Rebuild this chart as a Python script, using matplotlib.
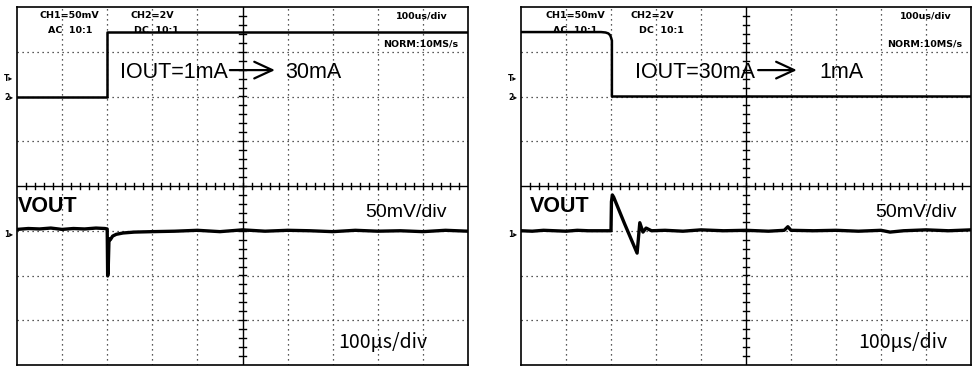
import matplotlib
matplotlib.use('Agg')
import matplotlib.pyplot as plt
import numpy as np

# x: time in microseconds (100 us/div), y: level in screen divisions (-4..4)

# CH2 (load current step) traces
ch2_rise_t = [0, 200, 200, 1000]
ch2_rise_v = [2.0, 2.0, 3.44, 3.44]
ch2_fall_t = [0, 178, 188, 194, 198, 200, 202, 202, 1000]
ch2_fall_v = [3.44, 3.44, 3.43, 3.41, 3.37, 3.32, 3.25, 2.0, 2.0]

# CH1 (VOUT) traces
vout_rise_t = [0, 25, 50, 75, 100, 125, 150, 175, 195, 200, 201, 202, 204, 207,
               212, 220, 235, 260, 300, 350, 400, 450, 500, 550, 600, 650, 700,
               750, 800, 850, 900, 950, 1000]
vout_rise_v = [-0.97, -0.95, -0.96, -0.94, -0.97, -0.95, -0.96, -0.94, -0.95,
               -0.96, -2.01, -1.95, -1.18, -1.20, -1.12, -1.08, -1.05, -1.03,
               -1.02, -1.01, -0.99, -1.02, -0.98, -1.01, -0.99, -1.00, -1.02,
               -0.99, -1.01, -1.00, -1.02, -0.99, -1.01]
vout_fall_t = [0, 25, 50, 75, 100, 125, 150, 175, 200, 201, 203, 206, 230, 258,
               264, 271, 278, 290, 320, 360, 400, 450, 500, 550, 585, 593, 600,
               650, 700, 750, 800, 820, 850, 900, 950, 1000]
vout_fall_v = [-1.00, -1.01, -0.99, -1.00, -1.01, -0.99, -1.00, -1.00, -1.00,
               -0.35, -0.20, -0.25, -0.84, -1.50, -0.82, -1.03, -0.94, -1.00,
               -0.99, -1.01, -0.98, -1.00, -0.99, -1.01, -0.99, -0.91, -0.99,
               -1.00, -0.99, -1.01, -0.99, -1.03, -1.00, -0.98, -1.00, -0.98]

# text labels
header_labels = ['CH1=50mV', 'AC  10:1', 'CH2=2V', 'DC  10:1', '100us/div', 'NORM:10MS/s']
title_from = ['IOUT=1mA', 'IOUT=30mA']
title_to = ['30mA', '1mA']

BIG_FONT = ['Liberation Sans', 'DejaVu Sans']


def draw_panel(ax, ch2_t, ch2_v, vout_t, vout_v, pos):
    ax.set_xlim(0, 1000)
    ax.set_ylim(-4, 4)
    ax.set_xticks([])
    ax.set_yticks([])
    for s in ax.spines.values():
        s.set_linewidth(1.2)
        s.set_color('black')

    # graticule
    for i in range(1, 10):
        if i != 5:
            ax.axvline(i * 100, ls=(0, (1, 3)), lw=0.9, color='#222222')
    for j in range(-3, 4):
        if j != 0:
            ax.axhline(j, ls=(0, (1, 3)), lw=0.9, color='#222222')
    ax.axvline(500, lw=1.0, color='black')
    ax.axhline(0, lw=1.0, color='black')
    for t in range(20, 1000, 20):
        ax.plot([t, t], [-0.07, 0.07], lw=1.0, color='black')
    for y in np.arange(-3.8, 4.0, 0.2):
        ax.plot([493, 507], [y, y], lw=1.0, color='black')

    # traces
    ax.plot(ch2_t, ch2_v, color='black', lw=1.8)
    ax.plot(vout_t, vout_v, color='black', lw=2.4)

    # header text
    hx = pos['header_x']
    hy = [3.75, 3.42, 3.75, 3.42, 3.75, 3.11]
    for lab, x, y in zip(header_labels, hx, hy):
        ax.text(x, y, lab, ha='center', va='baseline', fontsize=6.8,
                fontweight='bold', family='DejaVu Sans')

    # current step annotation
    ax.text(pos['from_x'], 2.41, pos['from'], ha='left', va='baseline',
            fontsize=15.5, family=BIG_FONT)
    ax.annotate('', xy=(pos['arrow'][1], 2.59), xytext=(pos['arrow'][0], 2.59),
                arrowprops=dict(arrowstyle='->,head_length=0.65,head_width=0.3',
                                lw=1.6, color='black', shrinkA=0, shrinkB=0,
                                mutation_scale=20))
    ax.text(pos['to_x'], 2.41, pos['to'], ha='left', va='baseline',
            fontsize=15.5, family=BIG_FONT)

    ax.text(pos['vout_x'], -0.58, 'VOUT', ha='left', va='baseline',
            fontsize=15.5, fontweight='bold', family=BIG_FONT)
    ax.text(pos['mv_x'], -0.69, '50mV/div', ha='left', va='baseline',
            fontsize=14, family=BIG_FONT)
    ax.text(pos['us_x'], -3.61, '100μs/div', ha='left', va='baseline',
            fontsize=14, family=['Noto Sans CJK JP', 'DejaVu Sans'])

    # channel markers at the left edge
    for y, m in [(2.41, 'T▸'), (1.97, '2▸'), (-1.08, '1▸')]:
        ax.text(-8, y, m, ha='right', va='center', fontsize=5.5,
                fontweight='bold', family='DejaVu Sans', clip_on=False)


fig = plt.figure(figsize=(9.76, 3.67), dpi=100)
ax1 = fig.add_axes([17 / 976, 2 / 367, 451 / 976, 358 / 367])
ax2 = fig.add_axes([521 / 976, 2 / 367, 450 / 976, 358 / 367])

draw_panel(ax1, ch2_rise_t, ch2_rise_v, vout_rise_t, vout_rise_v,
           dict(header_x=[117, 117, 300, 310, 898, 894], from_x=228, arrow=(472, 572),
                to_x=594, vout_x=2, mv_x=772, us_x=712,
                **{'from': title_from[0], 'to': title_to[0]}))
draw_panel(ax2, ch2_fall_t, ch2_fall_v, vout_fall_t, vout_fall_v,
           dict(header_x=[120, 120, 291, 311, 900, 896], from_x=253, arrow=(527, 613),
                to_x=664, vout_x=20, mv_x=787, us_x=749,
                **{'from': title_from[1], 'to': title_to[1]}))

fig.savefig('out.png', dpi=100)
